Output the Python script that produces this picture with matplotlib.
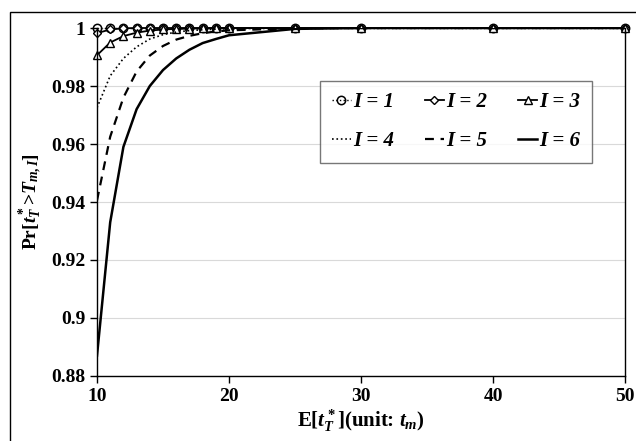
import numpy as np
import matplotlib
matplotlib.use("Agg")
import matplotlib.pyplot as plt
from matplotlib.patches import Rectangle

plt.rcParams['font.family'] = 'Liberation Serif'
plt.rcParams['font.weight'] = 'bold'
plt.rcParams['mathtext.fontset'] = 'custom'
plt.rcParams['mathtext.rm'] = 'Liberation Serif:bold'
plt.rcParams['mathtext.it'] = 'Liberation Serif:bold:italic'
plt.rcParams['mathtext.bf'] = 'Liberation Serif:bold'

# E[t_T*] values (unit: t_m)
x = [10, 11, 12, 13, 14, 15, 16, 17, 18, 19, 20, 25, 30, 40, 50]

p1 = [1.0] * 15
p2 = [0.9982, 0.9995, 0.9999, 1.0, 1.0, 1.0, 1.0, 1.0, 1.0, 1.0, 1.0, 1.0, 1.0, 1.0, 1.0]
p3 = [0.9906, 0.9950, 0.9972, 0.9984, 0.9991, 0.9995, 0.9997, 0.9998, 0.9999, 1.0, 1.0, 1.0, 1.0, 1.0, 1.0]
p4 = [0.9725, 0.9835, 0.9895, 0.9935, 0.9962, 0.9977, 0.9986, 0.9991, 0.9994, 0.9996, 0.9998, 1.0, 1.0, 1.0, 1.0]
p5 = [0.9405, 0.9625, 0.9760, 0.9850, 0.9905, 0.9938, 0.9960, 0.9973, 0.9982, 0.9988, 0.9992, 0.9999, 1.0, 1.0, 1.0]
p6 = [0.8870, 0.9330, 0.9590, 0.9720, 0.9800, 0.9855, 0.9895, 0.9925, 0.9948, 0.9962, 0.9975, 0.9997, 1.0, 1.0, 1.0]

labels = ['I = 1', 'I = 2', 'I = 3', 'I = 4', 'I = 5', 'I = 6']

fig = plt.figure(figsize=(6.36, 4.41), dpi=100)
ax = fig.add_axes([0.1525, 0.1474, 0.8305, 0.7891])

h1, = ax.plot(x, p1, ':', color='black', lw=1, marker='o', ms=6, mfc='none', mew=1.1, clip_on=False)
h2, = ax.plot(x, p2, '-', color='black', lw=1.3, marker='D', ms=4, mfc='white', mew=1.0, clip_on=False)
h3, = ax.plot(x, p3, '-', color='black', lw=1.3, marker='^', ms=5.5, mfc='white', mew=1.0, clip_on=False)
h4, = ax.plot(x, p4, ':', color='black', lw=1.2)
h5, = ax.plot(x, p5, '--', color='black', lw=1.6, dashes=(4, 3))
h6, = ax.plot(x, p6, '-', color='black', lw=1.8)

ax.set_xlim(10, 50)
ax.set_ylim(0.88, 1.0)
ax.set_xticks([10, 20, 30, 40, 50])
ax.set_yticks([0.88, 0.9, 0.92, 0.94, 0.96, 0.98, 1.0])
ax.set_yticklabels(['0.88', '0.9', '0.92', '0.94', '0.96', '0.98', '1'])
ax.tick_params(labelsize=14, direction='out', length=5, width=1)
ax.grid(axis='y', color='#d9d9d9', lw=0.8)
ax.set_axisbelow(True)
ax.spines['top'].set_visible(False)
for s in ['left', 'bottom', 'right']:
    ax.spines[s].set_linewidth(1)

ax.set_xlabel(r'E[$t_T^*$](unit: $t_m$)', fontsize=15, fontweight='bold', labelpad=2)
ax.set_ylabel(r'Pr[$t_T^*$>$T_{m,I}$]', fontsize=14, fontweight='bold', labelpad=4)

# row-wise legend order for 3 columns
order = [h1, h4, h2, h5, h3, h6]
order_lab = [labels[0], labels[3], labels[1], labels[4], labels[2], labels[5]]
leg = ax.legend(order, order_lab, ncol=3, loc='upper left', bbox_to_anchor=(0.4223, 0.8477),
                prop={'family': 'Liberation Serif', 'weight': 'bold', 'style': 'italic', 'size': 15},
                frameon=True, fancybox=False, edgecolor='#555555', handlelength=0.95,
                handletextpad=0.1, columnspacing=1.45, borderpad=0.55, labelspacing=0.9,
                borderaxespad=0)
leg.get_frame().set_linewidth(1)

fig.patches.append(Rectangle((10 / 636, -0.1), 1.0, 1.1 - 12 / 441, transform=fig.transFigure,
                             fill=False, edgecolor='black', lw=1))

fig.savefig('out.png', dpi=100)
